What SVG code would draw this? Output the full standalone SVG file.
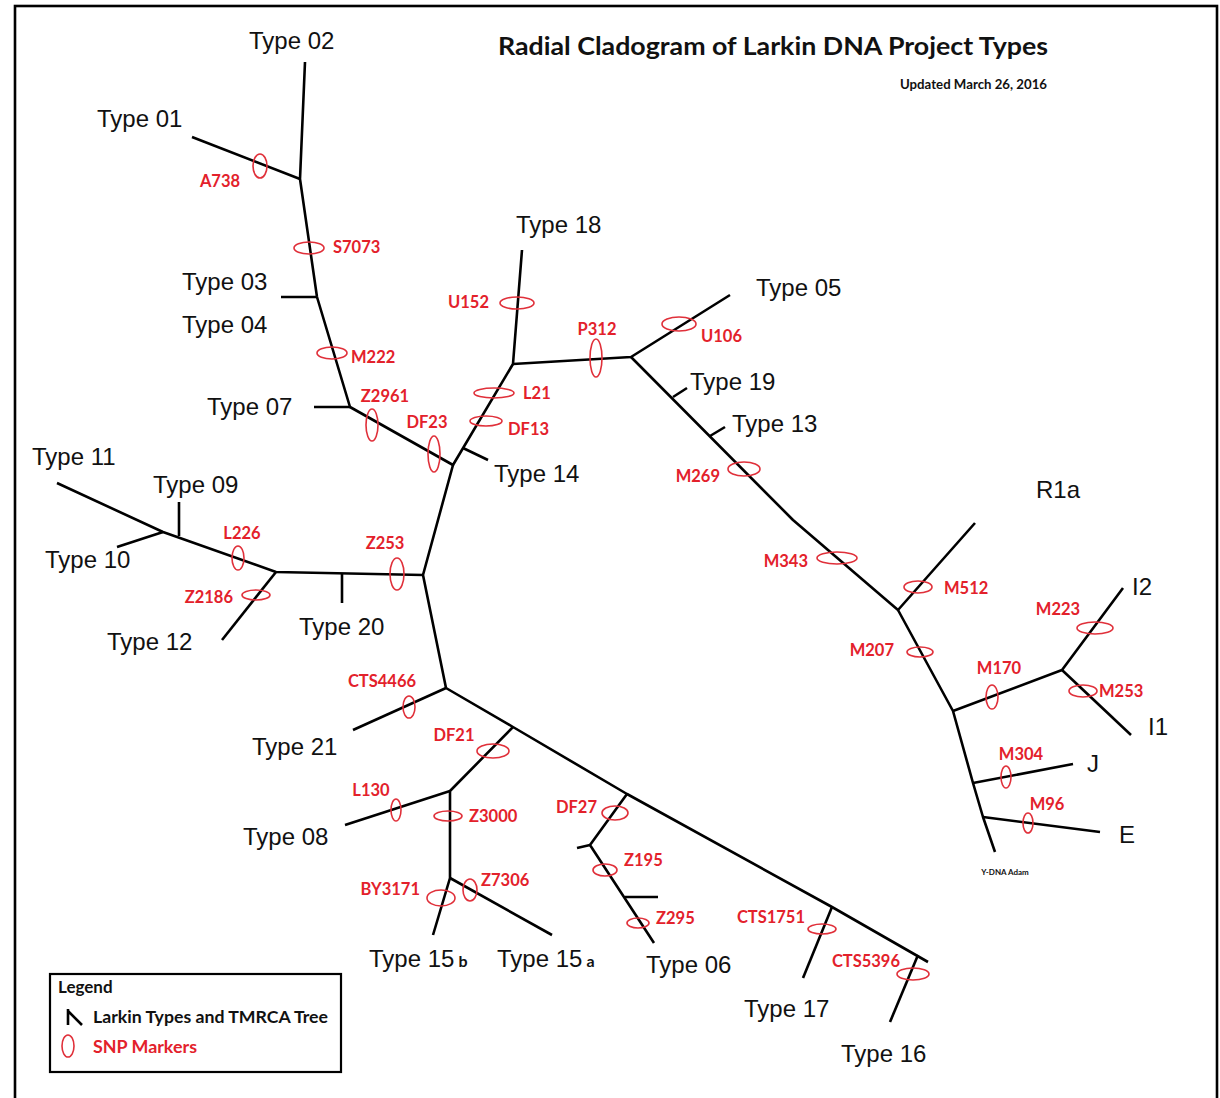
<svg xmlns="http://www.w3.org/2000/svg" width="1220" height="1098" viewBox="0 0 1220 1098">
<style>
.br{fill:none;stroke:#000;stroke-width:2.6;stroke-linecap:butt;stroke-linejoin:round}
.snp{fill:none;stroke:#e0303a;stroke-width:1.6}
.t{font-family:"Liberation Sans",Arial,sans-serif;font-size:24px;fill:#111}
.r{font-family:Lato,"Liberation Sans",sans-serif;font-weight:bold;font-size:16.5px;fill:#e3212b}
.sm{font-family:Lato,"Liberation Sans",sans-serif;font-weight:bold;fill:#111}
</style>
<rect x="0" y="0" width="1220" height="1098" fill="#fff"/>
<rect id="frame" x="15" y="6" width="1202" height="1110" fill="none" stroke="#000" stroke-width="2.6"/>

<g id="title">
<text class="sm" x="498" y="55" font-size="25" textLength="550" lengthAdjust="spacingAndGlyphs">Radial Cladogram of Larkin DNA Project Types</text>
<text class="sm" x="1047" y="89" font-size="12.5" text-anchor="end" textLength="147" lengthAdjust="spacingAndGlyphs">Updated March 26, 2016</text>
</g>

<g id="connectors">
<path class="br" d="M305,62 L300,179 L317,297 L350,407 L453,465 L513,364 L522,250"/>
<path class="br" d="M192,137 L300,179"/>
<path class="br" d="M281,297 L317,297"/>
<path class="br" d="M314,407 L350,407"/>
<path class="br" d="M463,448 L488,460"/>
<path class="br" d="M513,364 L631,357 L730,295"/>
<path class="br" d="M631,357 L793,520 L898,610 L975,523"/>
<path class="br" d="M673,397 L687,388"/>
<path class="br" d="M710,436 L725,427"/>
<path class="br" d="M898,610 L953,711 L973,783 L983,817 L995,852"/>
<path class="br" d="M953,711 L1062,670 L1123,588"/>
<path class="br" d="M1062,670 L1131,735"/>
<path class="br" d="M973,783 L1073,764"/>
<path class="br" d="M983,817 L1100,832"/>
<path class="br" d="M453,465 L423,575 L446,688"/>
<path class="br" d="M423,575 L276,572 L163,532 L57,483"/>
<path class="br" d="M342,574 L342,603"/>
<path class="br" d="M276,572 L222,640"/>
<path class="br" d="M179,536 L179,502"/>
<path class="br" d="M163,532 L117,547"/>
<path class="br" d="M446,688 L353,730"/>
<path class="br" d="M446,688 L513,727 L627,794 L832,907 L928,962"/>
<path class="br" d="M513,727 L450,791 L450,878 L433,935"/>
<path class="br" d="M450,791 L345,825"/>
<path class="br" d="M450,878 L552,935"/>
<path class="br" d="M627,794 L590,845 L654,943"/>
<path class="br" d="M577,848 L590,845"/>
<path class="br" d="M625,897 L658,897"/>
<path class="br" d="M832,907 L803,978"/>
<path class="br" d="M918,955 L890,1022"/>
</g>

<g id="types">
<text class="t" x="249" y="49">Type 02</text>
<text class="t" x="97" y="127">Type 01</text>
<text class="t" x="182" y="290">Type 03</text>
<text class="t" x="182" y="333">Type 04</text>
<text class="t" x="207" y="415">Type 07</text>
<text class="t" x="516" y="233">Type 18</text>
<text class="t" x="494" y="482">Type 14</text>
<text class="t" x="756" y="296">Type 05</text>
<text class="t" x="690" y="390">Type 19</text>
<text class="t" x="732" y="432">Type 13</text>
<text class="t" x="1036" y="498">R1a</text>
<text class="t" x="1132" y="595">I2</text>
<text class="t" x="1148" y="735">I1</text>
<text class="t" x="1087" y="772">J</text>
<text class="t" x="1119" y="843">E</text>
<text class="sm" x="1005" y="875" font-size="8" text-anchor="middle">Y-DNA Adam</text>
<text class="t" x="32" y="465">Type 11</text>
<text class="t" x="153" y="493">Type 09</text>
<text class="t" x="45" y="568">Type 10</text>
<text class="t" x="107" y="650">Type 12</text>
<text class="t" x="299" y="635">Type 20</text>
<text class="t" x="252" y="755">Type 21</text>
<text class="t" x="243" y="845">Type 08</text>
<text class="t" x="369" y="967">Type 15<tspan class="sm" font-size="16" dx="4">b</tspan></text>
<text class="t" x="497" y="967">Type 15<tspan class="sm" font-size="16" dx="4">a</tspan></text>
<text class="t" x="646" y="973">Type 06</text>
<text class="t" x="744" y="1017">Type 17</text>
<text class="t" x="841" y="1062">Type 16</text>
</g>

<g id="snps">
<g id="snp-A738"><ellipse class="snp" cx="260" cy="166" rx="7" ry="12"/><text class="r" x="220" y="187" text-anchor="middle">A738</text></g>
<g id="snp-S7073"><ellipse class="snp" cx="309" cy="248" rx="15" ry="6"/><text class="r" x="333" y="253">S7073</text></g>
<g id="snp-M222"><ellipse class="snp" cx="332" cy="353" rx="15" ry="6"/><text class="r" x="351" y="363">M222</text></g>
<g id="snp-Z2961"><ellipse class="snp" cx="372" cy="425" rx="6" ry="16"/><text class="r" x="385" y="402" text-anchor="middle">Z2961</text></g>
<g id="snp-DF23"><ellipse class="snp" cx="434" cy="454" rx="6" ry="18"/><text class="r" x="427" y="428" text-anchor="middle">DF23</text></g>
<g id="snp-U152"><ellipse class="snp" cx="517" cy="303" rx="17" ry="6"/><text class="r" x="489" y="308" text-anchor="end">U152</text></g>
<g id="snp-P312"><ellipse class="snp" cx="596" cy="358" rx="6" ry="19"/><text class="r" x="597" y="335" text-anchor="middle">P312</text></g>
<g id="snp-L21"><ellipse class="snp" cx="494" cy="393" rx="20" ry="5"/><text class="r" x="523" y="399">L21</text></g>
<g id="snp-DF13"><ellipse class="snp" cx="486" cy="421" rx="16" ry="5"/><text class="r" x="508" y="435">DF13</text></g>
<g id="snp-U106"><ellipse class="snp" cx="679" cy="324" rx="17" ry="7"/><text class="r" x="701" y="342">U106</text></g>
<g id="snp-M269"><ellipse class="snp" cx="744" cy="469" rx="16" ry="7"/><text class="r" x="720" y="482" text-anchor="end">M269</text></g>
<g id="snp-M343"><ellipse class="snp" cx="837" cy="558" rx="20" ry="6"/><text class="r" x="808" y="567" text-anchor="end">M343</text></g>
<g id="snp-M512"><ellipse class="snp" cx="918" cy="587" rx="14" ry="6"/><text class="r" x="944" y="594">M512</text></g>
<g id="snp-M207"><ellipse class="snp" cx="920" cy="652" rx="13" ry="5"/><text class="r" x="894" y="656" text-anchor="end">M207</text></g>
<g id="snp-M170"><ellipse class="snp" cx="992" cy="697" rx="6" ry="12"/><text class="r" x="999" y="674" text-anchor="middle">M170</text></g>
<g id="snp-M223"><ellipse class="snp" cx="1095" cy="628" rx="18" ry="6"/><text class="r" x="1058" y="615" text-anchor="middle">M223</text></g>
<g id="snp-M253"><ellipse class="snp" cx="1083" cy="691" rx="14" ry="6"/><text class="r" x="1099" y="697">M253</text></g>
<g id="snp-M304"><ellipse class="snp" cx="1006" cy="777" rx="5" ry="11"/><text class="r" x="1021" y="760" text-anchor="middle">M304</text></g>
<g id="snp-M96"><ellipse class="snp" cx="1028" cy="823" rx="5" ry="10"/><text class="r" x="1047" y="810" text-anchor="middle">M96</text></g>
<g id="snp-Z253"><ellipse class="snp" cx="397" cy="574" rx="7" ry="16"/><text class="r" x="385" y="549" text-anchor="middle">Z253</text></g>
<g id="snp-L226"><ellipse class="snp" cx="238" cy="558" rx="6" ry="12"/><text class="r" x="242" y="539" text-anchor="middle">L226</text></g>
<g id="snp-Z2186"><ellipse class="snp" cx="256" cy="595" rx="14" ry="5"/><text class="r" x="233" y="603" text-anchor="end">Z2186</text></g>
<g id="snp-CTS4466"><ellipse class="snp" cx="409" cy="707" rx="6" ry="11"/><text class="r" x="382" y="687" text-anchor="middle">CTS4466</text></g>
<g id="snp-DF21"><ellipse class="snp" cx="493" cy="751" rx="16" ry="7"/><text class="r" x="454" y="741" text-anchor="middle">DF21</text></g>
<g id="snp-L130"><ellipse class="snp" cx="396" cy="810" rx="5" ry="11"/><text class="r" x="371" y="796" text-anchor="middle">L130</text></g>
<g id="snp-Z3000"><ellipse class="snp" cx="448" cy="816" rx="14" ry="5"/><text class="r" x="469" y="822">Z3000</text></g>
<g id="snp-BY3171"><ellipse class="snp" cx="441" cy="898" rx="14" ry="8"/><text class="r" x="420" y="895" text-anchor="end">BY3171</text></g>
<g id="snp-Z7306"><ellipse class="snp" cx="470" cy="890" rx="7" ry="11"/><text class="r" x="481" y="886">Z7306</text></g>
<g id="snp-DF27"><ellipse class="snp" cx="615" cy="813" rx="13" ry="7"/><text class="r" x="597" y="813" text-anchor="end">DF27</text></g>
<g id="snp-Z195"><ellipse class="snp" cx="605" cy="870" rx="12" ry="6"/><text class="r" x="624" y="866">Z195</text></g>
<g id="snp-Z295"><ellipse class="snp" cx="638" cy="923" rx="11" ry="5"/><text class="r" x="656" y="924">Z295</text></g>
<g id="snp-CTS1751"><ellipse class="snp" cx="822" cy="929" rx="14" ry="5"/><text class="r" x="805" y="923" text-anchor="end">CTS1751</text></g>
<g id="snp-CTS5396"><ellipse class="snp" cx="913" cy="974" rx="16" ry="6"/><text class="r" x="900" y="967" text-anchor="end">CTS5396</text></g>
</g>

<g id="legend">
<rect x="50" y="974" width="291" height="98" fill="#fff" stroke="#000" stroke-width="2.2"/>
<text class="sm" x="58" y="993" font-size="17">Legend</text>
<path class="br" d="M68,1009 L68,1025 M68,1011 L82,1025" stroke-width="2"/>
<text class="sm" x="93" y="1023" font-size="17" textLength="235" lengthAdjust="spacingAndGlyphs">Larkin Types and TMRCA Tree</text>
<ellipse class="snp" cx="68" cy="1046" rx="6" ry="11" stroke-width="1.8"/>
<text class="r" x="93" y="1053" font-size="17" textLength="104" lengthAdjust="spacingAndGlyphs">SNP Markers</text>
</g>
</svg>
